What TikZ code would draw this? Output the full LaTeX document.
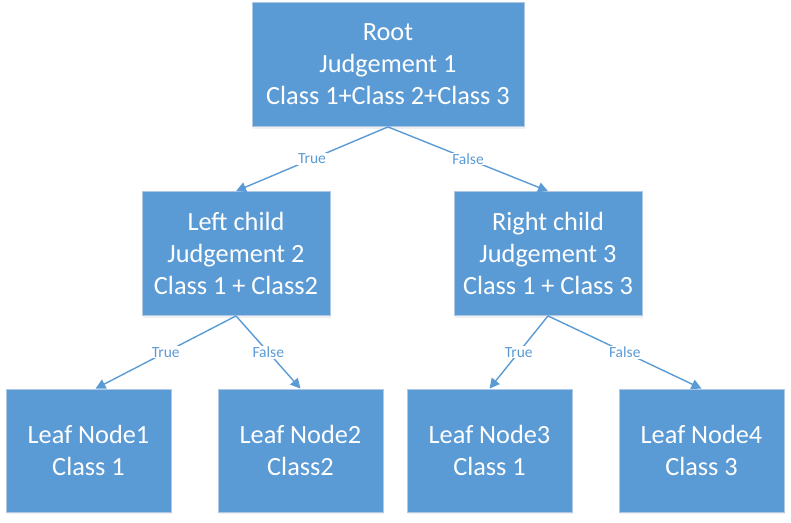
\documentclass[tikz,border=0pt]{standalone}
\usepackage{fontspec}
\setmainfont{Carlito}
\usetikzlibrary{shapes,arrows.meta,shadows}
\usetikzlibrary{positioning}
\definecolor{boxblue}{HTML}{5B9BD5}
\definecolor{boxedge}{HTML}{AFC8E6}

\begin{document}
\begin{tikzpicture}
        [x=1pt, y=-1pt,
         box/.style={draw=boxedge, line width=0.8pt, fill=boxblue, text=white, align=center, inner sep=0pt,
                     font=\fontsize{26.3}{32}\selectfont, minimum height=124pt,
                     drop shadow={opacity=0.12, shadow xshift=1pt, shadow yshift=-2pt}},
         lbl/.style={fill=white, text=boxblue, font=\fontsize{15.5}{18}\selectfont, inner sep=1pt},
         link/.style={draw=boxblue, line width=1.4pt, -{Triangle[length=10pt,width=10pt]}}]
        \useasboundingbox (0,0) rectangle (791,522);
        \node [box, minimum width=272pt] (root) at (388,64.5) {Root\\Judgement 1\\Class 1+Class 2+Class 3};
        \node [box, minimum width=188pt] (left) at (236,253.5) {Left child\\Judgement 2\\Class 1 + Class2};
        \node [box, minimum width=188pt] (right) at (548,253.5) {Right child\\Judgement 3\\Class 1 + Class 3};
        \node [box, minimum width=165pt, minimum height=123pt] (leafa) at (88.5,450.5) {Leaf Node1\\Class 1};
        \node [box, minimum width=165pt, minimum height=123pt] (leafb) at (300.5,450.5) {Leaf Node2\\Class2};
        \node [box, minimum width=165pt, minimum height=123pt] (leafc) at (489.5,450.5) {Leaf Node3\\Class 1};
        \node [box, minimum width=165pt, minimum height=123pt] (leafd) at (701.5,450.5) {Leaf Node4\\Class 3};

        \draw [link] (root.south) -- node [lbl] {True} (left.north);
        \draw [link] (root.south) -- node [lbl] {False} (right.north);
        \draw [link] (left.south) -- node [lbl] {True} ([xshift=7pt]leafa.north);
        \draw [link] (left.south) -- node [lbl] {False} (leafb.north);
        \draw [link] (right.south) -- node [lbl] {True} (leafc.north);
        \draw [link] (right.south) -- node [lbl] {False} (leafd.north);
    \end{tikzpicture}
\end{document}
